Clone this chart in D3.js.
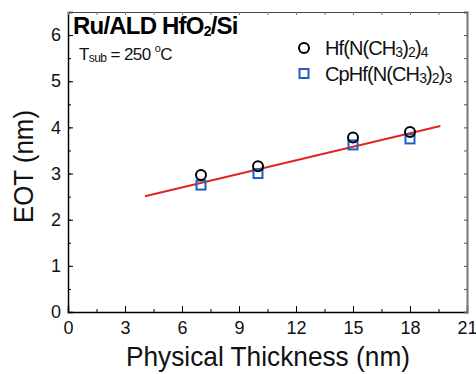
<!DOCTYPE html>
<html><head><meta charset="utf-8">
<script src="https://cdn.jsdelivr.net/npm/d3@7"></script>
<style>body{margin:0;background:#fff}svg{display:block}text{font-family:"Liberation Sans",Arial,sans-serif}</style>
</head><body>
<script>
const thickness = [7, 10, 15, 18];
const eotHf = [2.97, 3.16, 3.78, 3.90];
const eotCp = [2.75, 3.00, 3.62, 3.75];
const fitX = [4.05, 19.6];
const fitY = [2.51, 4.03];
const xTicks = [0, 3, 6, 9, 12, 15, 18, 21];
const yTicks = [0, 1, 2, 3, 4, 5, 6];

const W = 476, H = 374;
const m = {l: 68, r: 467, t: 12, b: 312};
const svg = d3.select("body").append("svg").attr("width", W).attr("height", H);
const x = d3.scaleLinear().domain([0, 21]).range([m.l, m.r]);
const y = d3.scaleLinear().domain([0, 6.5]).range([m.b, m.t]);

const xMinor = d3.range(0, 21.01, 1.5);
const yMinor = d3.range(0, 6.51, 0.5);
svg.append("g").attr("transform", `translate(0,${m.b})`)
  .call(d3.axisBottom(x).tickValues(xMinor).tickSize(-3).tickFormat(""))
  .call(g => g.select(".domain").remove());
svg.append("g").attr("transform", `translate(0,${m.b})`)
  .call(d3.axisBottom(x).tickValues(xTicks).tickSize(-6).tickPadding(9).tickFormat(d3.format("d")))
  .call(g => g.select(".domain").attr("stroke-width", 1.5))
  .call(g => g.selectAll("text").attr("font-size", 18).attr("fill", "#111"));
svg.append("g").attr("transform", `translate(${m.l},0)`)
  .call(d3.axisLeft(y).tickValues(yMinor).tickSize(-3).tickFormat(""))
  .call(g => g.select(".domain").remove());
svg.append("g").attr("transform", `translate(${m.l},0)`)
  .call(d3.axisLeft(y).tickValues(yTicks).tickSize(-5).tickPadding(7).tickFormat(d3.format("d")))
  .call(g => g.select(".domain").attr("stroke-width", 1.5))
  .call(g => g.selectAll("text").attr("font-size", 18).attr("fill", "#111"));
svg.append("g").attr("transform", `translate(${m.r},0)`)
  .call(d3.axisRight(y).tickValues(yMinor).tickSize(-3).tickFormat(""))
  .call(g => g.select(".domain").attr("stroke", "#777").attr("stroke-width", 2))
  .call(g => g.selectAll(".tick line").attr("stroke", "#555"));
svg.append("g").attr("transform", `translate(0,${m.t})`)
  .call(d3.axisTop(x).tickValues(xMinor).tickSize(-3).tickFormat(""))
  .call(g => g.select(".domain").attr("stroke", "#444").attr("stroke-width", 1.2))
  .call(g => g.selectAll(".tick line").attr("stroke", "#777"));

svg.append("line")
  .attr("x1", x(fitX[0])).attr("y1", y(fitY[0]))
  .attr("x2", x(fitX[1])).attr("y2", y(fitY[1]))
  .attr("stroke", "#e02525").attr("stroke-width", 2);

svg.selectAll(".sq").data(thickness).enter().append("rect")
  .attr("x", (d) => x(d) - 4.5).attr("y", (d, i) => y(eotCp[i]) - 4.5)
  .attr("width", 9).attr("height", 9)
  .attr("fill", "none").attr("stroke", "#1f5fc0").attr("stroke-width", 2);
svg.selectAll(".ci").data(thickness).enter().append("circle")
  .attr("cx", (d) => x(d)).attr("cy", (d, i) => y(eotHf[i])).attr("r", 5)
  .attr("fill", "none").attr("stroke", "#000").attr("stroke-width", 2);

svg.append("text").attr("x", 126).attr("y", 366)
  .attr("font-size", 28).attr("fill", "#111").attr("textLength", 284).attr("lengthAdjust", "spacingAndGlyphs")
  .text("Physical Thickness (nm)");
svg.append("text").attr("transform", `translate(33,223) rotate(-90)`)
  .attr("font-size", 28).attr("fill", "#111").attr("textLength", 113).attr("lengthAdjust", "spacingAndGlyphs")
  .text("EOT (nm)");

const t = svg.append("text").attr("x", 73).attr("y", 34).attr("font-size", 24).attr("font-weight", "bold").attr("letter-spacing", -0.8).attr("fill", "#000");
t.append("tspan").text("Ru/ALD HfO");
t.append("tspan").attr("font-size", 14).attr("dy", 2).text("2");
t.append("tspan").attr("dy", -2).text("/Si");

const ts = svg.append("text").attr("x", 79).attr("y", 60).attr("font-size", 17).attr("letter-spacing", -0.6).attr("fill", "#111");
ts.append("tspan").text("T");
ts.append("tspan").attr("font-size", 12).attr("dy", 2).text("sub");
ts.append("tspan").attr("dy", -2).text(" = 250 ");
ts.append("tspan").attr("font-size", 11).attr("dy", -8).text("o");
ts.append("tspan").attr("dy", 8).text("C");

const leg = svg.append("g");
leg.append("circle").attr("cx", 304).attr("cy", 48).attr("r", 5).attr("fill", "none").attr("stroke", "#000").attr("stroke-width", 2);
leg.append("rect").attr("x", 299.5).attr("y", 69).attr("width", 9).attr("height", 9).attr("fill", "none").attr("stroke", "#1f5fc0").attr("stroke-width", 2);
function chem(yy, parts) {
  const tx = leg.append("text").attr("x", 325).attr("y", yy).attr("font-size", 20).attr("letter-spacing", -0.9).attr("fill", "#111");
  let prevSub = false;
  parts.forEach(([s, sub]) => {
    const sp = tx.append("tspan").text(s);
    if (sub) sp.attr("font-size", 14);
    sp.attr("dy", sub && !prevSub ? 2 : (!sub && prevSub ? -2 : 0));
    prevSub = sub;
  });
}
chem(55, [["Hf(N(CH", 0], ["3", 1], [")", 0], ["2", 1], [")", 0], ["4", 1]]);
chem(81, [["CpHf(N(CH", 0], ["3", 1], [")", 0], ["2", 1], [")", 0], ["3", 1]]);
</script>
</body></html>
